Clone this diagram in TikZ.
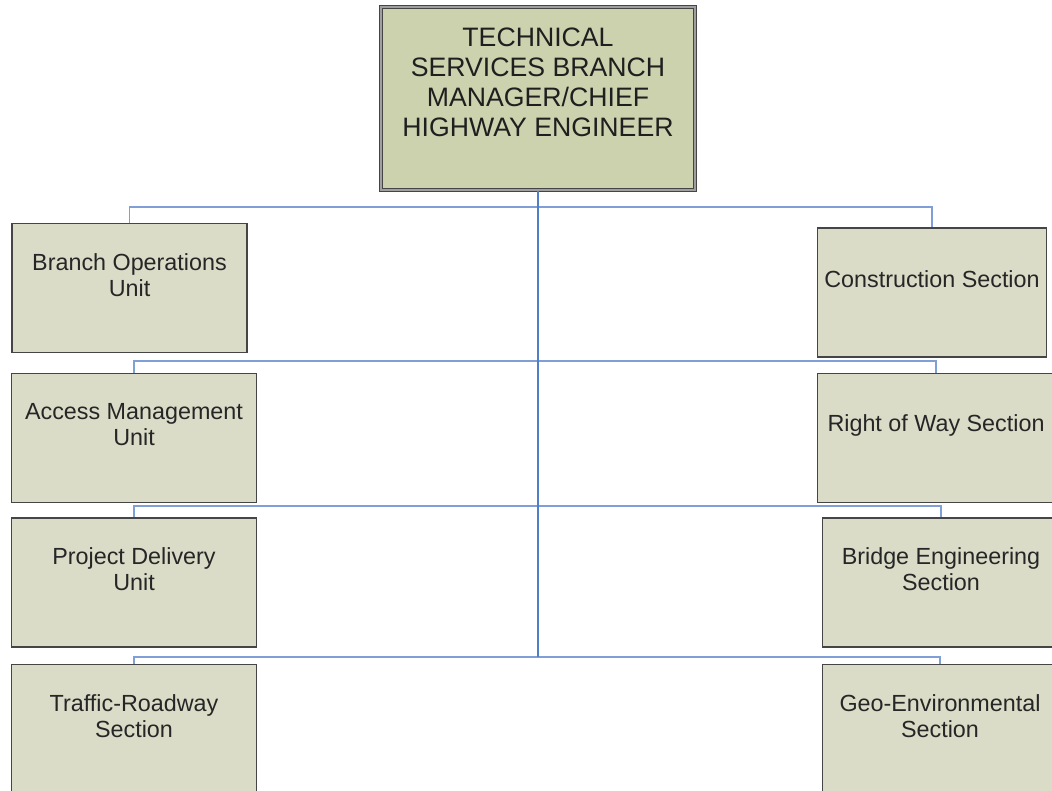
\documentclass[tikz,border=0pt]{standalone}
\usepackage{fontspec}
\setmainfont{Liberation Sans}
\usetikzlibrary{positioning}
\definecolor{chiefFill}{HTML}{CDD2AE}
\definecolor{unitFill}{HTML}{DADCC7}
\definecolor{boxEdge}{HTML}{454545}
\definecolor{trunkBlue}{HTML}{4F7FC4}
\definecolor{branchBlue}{HTML}{7F9FD6}
\tikzset{chiefNode/.style={shape=rectangle, inner sep=0pt, draw=boxEdge, line width=0.9pt, double=gray!75, double distance=1.2pt, fill=chiefFill, minimum width=235.5pt, minimum height=137.25pt}}
\tikzset{unitNode/.style={shape=rectangle, inner sep=0pt, draw=boxEdge, line width=1.2pt, fill=unitFill, minimum height=96.75pt}}
\tikzset{chiefLabel/.style={align=center, text=black!88, font=\fontsize{20}{22.5}\selectfont, yshift=12.4pt}}
\tikzset{unitLabel/.style={align=center, text=black!85, font=\fontsize{17.5}{19.5}\selectfont, yshift=9.75pt}}
\tikzset{trunk/.style={draw=trunkBlue, line width=2.1pt}}
\tikzset{branch/.style={draw=branchBlue, line width=1.4pt}}

\begin{document}
\begin{tikzpicture}[x=0.75pt, y=-0.75pt]

\clip (0,0) rectangle (1052,791);
\fill[white] (0,0) rectangle (1052,791);

% Branch manager
\node[chiefNode, label={[chiefLabel]center:{TECHNICAL\\SERVICES BRANCH\\MANAGER/CHIEF\\HIGHWAY ENGINEER}}] (chief) at (538,98.5) {};

% Left column
\node[unitNode, minimum width=176.5pt, label={[unitLabel]center:{Branch Operations\\Unit}}] (bou) at (129.5,288) {};
\node[unitNode, minimum width=183.5pt, label={[unitLabel]center:{Access Management\\Unit}}] (amu) at (134,438) {};
\node[unitNode, minimum width=183.5pt, label={[unitLabel]center:{Project Delivery\\Unit}}] (pdu) at (134,582.5) {};
\node[unitNode, minimum width=183.5pt, label={[unitLabel]center:{Traffic-Roadway\\Section}}] (trs) at (134,729) {};

% Right column
\node[unitNode, minimum width=171.5pt, label={[unitLabel]center:{Construction Section}}] (cs) at (932,292.5) {};
\node[unitNode, minimum width=177.5pt, label={[unitLabel]center:{Right of Way Section}}] (rws) at (936,438) {};
\node[unitNode, minimum width=177.5pt, label={[unitLabel]center:{Bridge Engineering\\Section}}] (bes) at (941,582.5) {};
\node[unitNode, minimum width=176pt, label={[unitLabel]center:{Geo-Environmental\\Section}}] (ges) at (940,729) {};

% junctions on the trunk
\coordinate (j1) at (538,207);
\coordinate (j2) at (538,361);
\coordinate (j3) at (538,506);
\coordinate (j4) at (538,657);

\draw[branch] (bou.north) |- (j1) -| (cs.north);
\draw[branch] (amu.north) |- (j2) -| (rws.north);
\draw[branch] (pdu.north) |- (j3) -| (bes.north);
\draw[branch] (trs.north) |- (j4) -| (ges.north);
\draw[trunk] (chief.south) -- (j4);

\end{tikzpicture}
\end{document}
